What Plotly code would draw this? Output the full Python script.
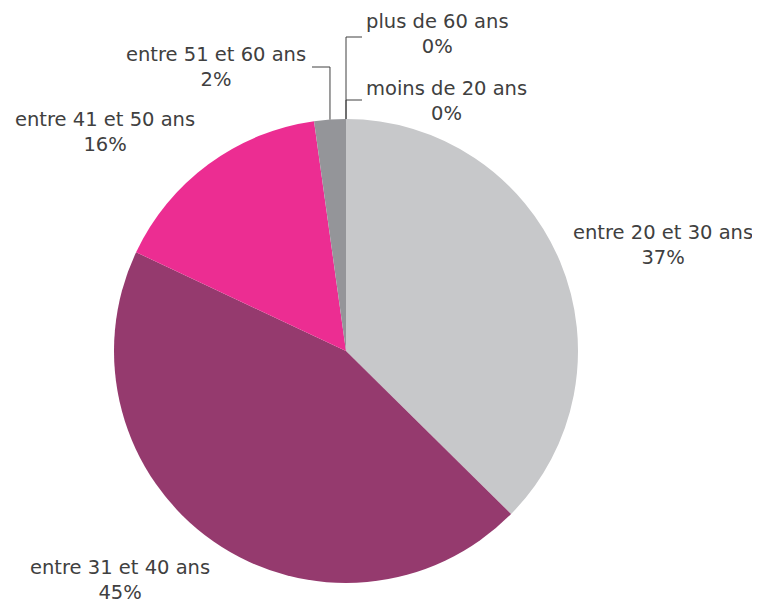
import math
import plotly.graph_objects as go

# ---- data ----
labels = ["moins de 20 ans", "entre 20 et 30 ans", "entre 31 et 40 ans",
          "entre 41 et 50 ans", "entre 51 et 60 ans", "plus de 60 ans"]
values = [0, 37.4, 44.6, 15.8, 2.2, 0]
colors = ["#C7C8CA", "#C7C8CA", "#953A6E", "#EC2D92", "#949599", "#949599"]

OFF = 8  # page body margin
W, H = 760 - OFF, 603 - OFF
CX, CY, R = 346 - OFF, 351 - OFF, 232

def px(x, y):
    # x, y given in screenshot pixels
    return (x - OFF) / W, (H - (y - OFF)) / H

fig = go.Figure(go.Pie(
    labels=labels, values=values, sort=False, direction="clockwise", rotation=0,
    marker=dict(colors=colors, line=dict(width=0)),
    textinfo="none", hoverinfo="label+percent", showlegend=False,
    domain=dict(x=[(CX - R) / W, (CX + R) / W], y=[(H - CY - R) / H, (H - CY + R) / H]),
))

total = sum(values)
cum = [0]
for v in values:
    cum.append(cum[-1] + v)

def edge_point(i):
    # in screenshot pixels
    mid = (cum[i] + cum[i + 1]) / 2 / total * 2 * math.pi
    return CX + OFF + R * math.sin(mid), CY + OFF - R * math.cos(mid)

# label centres (screenshot pixels) for each category
label_pos = [(446, 101), (663, 245), (120, 580), (105, 132), (216, 67), (437, 34)]

annotations = []
for i, lab in enumerate(labels):
    pct = round(values[i] / total * 100)
    x, y = px(*label_pos[i])
    annotations.append(dict(
        x=x, y=y, xref="paper", yref="paper", xanchor="center", yanchor="middle",
        text=f"{lab}<br>{pct}%", showarrow=False, align="center",
        font=dict(family="DejaVu Sans", size=19.5, color="#404040")))

# leader lines for the small slices
shapes = []
def leader(i, elbow_y, end_x):
    ex, ey = edge_point(i)
    pts = [px(ex, ey), px(ex, elbow_y), px(end_x, elbow_y)]
    path = "M {} {} L {} {} L {} {}".format(*[c for p in pts for c in p])
    shapes.append(dict(type="path", path=path, xref="paper", yref="paper",
                       line=dict(color="#404040", width=1)))

leader(0, 100, 362)
leader(5, 37, 362)
leader(4, 67, 312)

fig.update_layout(
    width=W, height=H, margin=dict(l=0, r=0, t=0, b=0),
    paper_bgcolor="white", plot_bgcolor="white",
    annotations=annotations, shapes=shapes,
)

fig.write_html("out.html")
